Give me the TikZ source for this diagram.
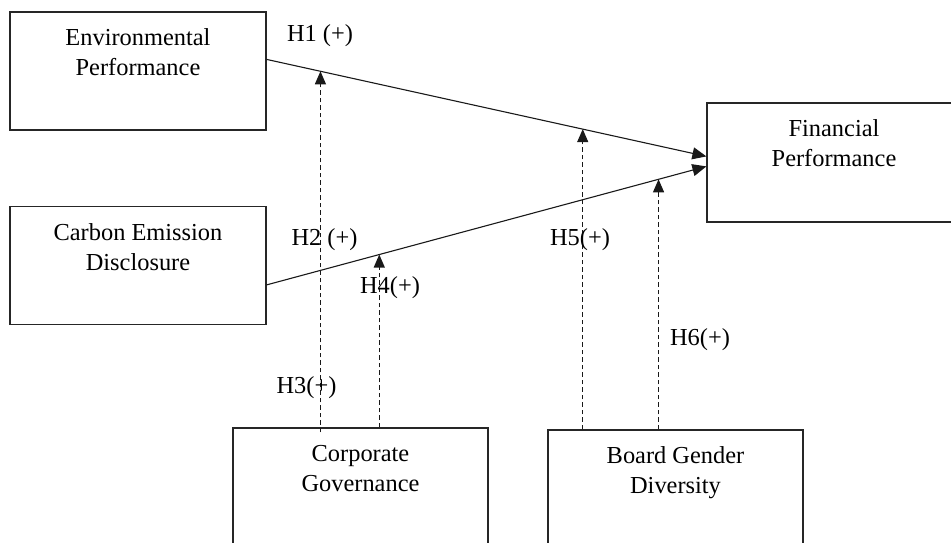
\documentclass[tikz,border=0pt]{standalone}
\usepackage{fontspec}
\setmainfont{Liberation Serif}
\usetikzlibrary{arrows.meta,calc}
\begin{document}
\begin{tikzpicture}[x=1pt,y=-1pt,
  varbox/.style={draw=black!85,line width=1.2pt,inner sep=0pt,minimum height=118pt},
  boxtext/.style={anchor=north,inner sep=0pt,align=center,font=\fontsize{24.4}{30}\selectfont,yshift=-13pt},
  hlabel/.style={anchor=base,inner sep=0pt,font=\fontsize{24.4}{30}\selectfont},
  mainarrow/.style={line width=1.1pt,draw=black!90,-{Triangle[length=14pt,width=12pt]}},
  modarrow/.style={line width=1.1pt,draw=black!90,dash pattern=on 4.5pt off 3pt,-{Triangle[length=13pt,width=11pt]}}]
\useasboundingbox (0,0) rectangle (951,543);
% boxes
\node[varbox,minimum width=256pt] (env) at (138,71) {};
\node[boxtext] (envt) at (env.north) {\strut Environmental\\Performance};
\node[varbox,minimum width=256pt] (cb) at (138,265.5) {};
\node[boxtext] (cbt) at (cb.north) {\strut Carbon Emission\\Disclosure};
\node[varbox,minimum width=254pt,minimum height=119pt] (fin) at (834,162.5) {};
\node[boxtext] (fint) at (fin.north) {\strut Financial\\Performance};
\node[varbox,minimum width=255pt] (cg) at (360.5,487) {};
\node[boxtext] (cgt) at (cg.north) {\strut Corporate\\Governance};
\node[varbox,minimum width=255pt] (bgd) at (675.5,489) {};
\node[boxtext] (bgdt) at (bgd.north) {\strut Board Gender\\Diversity};
% main paths
\coordinate (e1) at ([yshift=-48pt]env.north east);
\coordinate (c1) at ([yshift=-79pt]cb.north east);
\coordinate (f1) at ([yshift=-54pt]fin.north west);
\coordinate (f2) at ([yshift=-64pt]fin.north west);
\draw[mainarrow] (e1) -- (f1);
\draw[mainarrow] (c1) -- (f2);
% moderation points
\coordinate (m1) at ($(e1)!0.1224!(f1)$);
\coordinate (m5) at ($(e1)!0.7188!(f1)$);
\coordinate (m4) at ($(c1)!0.2562!(f2)$);
\coordinate (m6) at ($(c1)!0.8912!(f2)$);
\draw[modarrow] ($(m1 |- cg.north)+(0,5)$) -- (m1);
\draw[modarrow] (m4 |- cg.north) -- (m4);
\draw[modarrow] (m5 |- bgd.north) -- (m5);
\draw[modarrow] (m6 |- bgd.north) -- (m6);
% labels
\node[hlabel] (h1) at (320,42) {H1 (+)};
\node[hlabel] (h2) at (324.5,245) {H2 (+)};
\node[hlabel] (h3) at (306.5,393) {H3(+)};
\node[hlabel] (h4) at (390,293) {H4(+)};
\node[hlabel] (h5) at (580,245) {H5(+)};
\node[hlabel] (h6) at (700,345) {H6(+)};
\end{tikzpicture}
\end{document}
